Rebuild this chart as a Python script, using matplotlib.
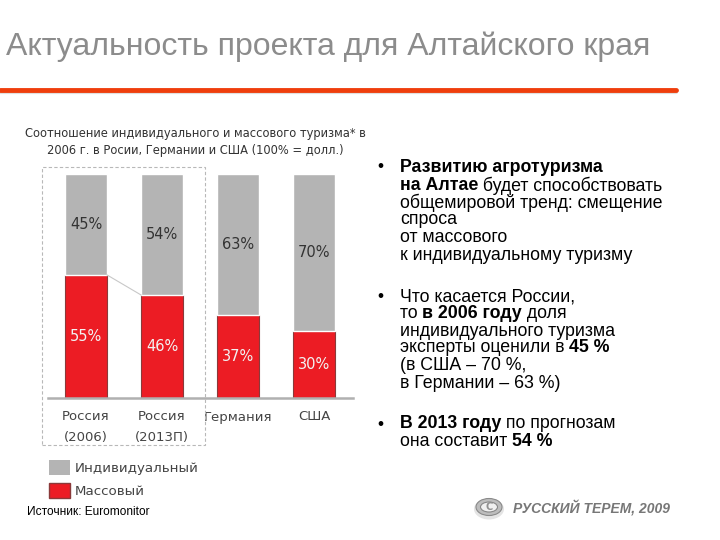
import matplotlib
matplotlib.use('Agg')
import matplotlib.pyplot as plt
from matplotlib.patches import Rectangle, Ellipse, Patch
from matplotlib.lines import Line2D

# data
categories = ['Россия\n(2006)', 'Россия\n(2013П)', 'Германия', 'США']
individual = [45, 54, 63, 70]
mass = [55, 46, 37, 30]

GRAY = '#b4b4b4'
RED = '#ec1c24'
W, H = 720, 540


def px(x, y):
    # slide pixel coords -> figure fraction
    return x / W, 1 - y / H


fig = plt.figure(figsize=(7.2, 5.4), dpi=100)
fig.patch.set_facecolor('white')

# slide title and orange rule
fig.text(*px(6, 47), 'Актуальность проекта для Алтайского края', fontsize=23,
         family='Liberation Sans', color='#8c8c8c', va='center', ha='left')
fig.add_artist(Line2D([0, 676 / W], [1 - 92 / H] * 2, color='#e0e0e0', lw=3,
                      solid_capstyle='round'))
fig.add_artist(Line2D([0, 676 / W], [1 - 90 / H] * 2, color='#ef3e0c', lw=3.5,
                      solid_capstyle='round'))

# chart title
fig.text(*px(195, 142), 'Соотношение индивидуального и массового туризма* в\n'
         '2006 г. в Росии, Германии и США (100% = долл.)',
         fontsize=8.3, family='DejaVu Sans', color='#333333', ha='center',
         va='center', linespacing=1.45)

# bars
ax = fig.add_axes([48 / W, 1 - 398 / H, 305 / W, 225 / H])
x = range(len(categories))
ax.bar(x, mass, width=0.55, color=RED, edgecolor='#8a3a3a', linewidth=0.8)
ax.bar(x, individual, bottom=mass, width=0.55, color=GRAY, edgecolor='white',
       linewidth=1.0)
ax.plot([0.275, 0.725], [mass[0], mass[1]], color='#c8c8c8', lw=0.8)
for i in x:
    ax.text(i, mass[i] + individual[i] / 2, f'{individual[i]}%', ha='center',
            va='center', fontsize=10.5, color='#333333', family='DejaVu Sans')
    ax.text(i, mass[i] / 2, f'{mass[i]}%', ha='center', va='center',
            fontsize=10.5, color='#f2f2f2', family='DejaVu Sans')
ax.set_xlim(-0.5, 3.513)
ax.set_ylim(0, 100.5)
ax.set_xticks(list(x))
ax.set_xticklabels(categories, fontsize=9.5, color='#444444',
                   family='DejaVu Sans', linespacing=1.75)
ax.tick_params(length=0, pad=9)
ax.set_yticks([])
for s in ['top', 'left', 'right']:
    ax.spines[s].set_visible(False)
ax.spines['bottom'].set_color('#b0b0b0')
ax.spines['bottom'].set_linewidth(1.8)
ax.set_facecolor('none')

# dashed box around Russia
bx0, by0 = px(42, 445)
fig.add_artist(Rectangle((bx0, by0), 163 / W, 278 / H, fill=False,
                         edgecolor='#b8b8b8', lw=0.8, ls=(0, (3, 2))))

# legend
fig.legend(handles=[Patch(facecolor=GRAY, edgecolor='none', label='Индивидуальный'),
                    Patch(facecolor=RED, edgecolor='#8a3a3a', label='Массовый')],
           loc='upper left', bbox_to_anchor=px(37, 448), frameon=False,
           prop={'family': 'DejaVu Sans', 'size': 9.6}, handlelength=1.6,
           handleheight=1.4, handletextpad=0.35, labelspacing=0.55,
           labelcolor='#444444')

fig.text(*px(27, 512), 'Источник: Euromonitor', fontsize=8.6,
         family='Liberation Sans', color='black', va='center')

# bullet text on the right
lines = [
    (167, True, [('Развитию агротуризма', True)]),
    (186, False, [('на Алтае', True), (' будет способствовать', False)]),
    (203, False, [('общемировой тренд: смещение', False)]),
    (220, False, [('спроса', False)]),
    (238, False, [('от массового', False)]),
    (255, False, [('к индивидуальному туризму', False)]),
    (297, True, [('Что касается России,', False)]),
    (314, False, [('то ', False), ('в 2006 году', True), (' доля', False)]),
    (331, False, [('индивидуального туризма', False)]),
    (348, False, [('эксперты оценили в ', False), ('45 %', True)]),
    (366, False, [('(в США – 70 %,', False)]),
    (383, False, [('в Германии – 63 %)', False)]),
    (424, True, [('В 2013 году', True), (' по прогнозам', False)]),
    (441, False, [('она составит ', False), ('54 %', True)]),
]
renderer = fig.canvas.get_renderer()
for y, bullet, parts in lines:
    if bullet:
        fig.text(*px(377, y), '•', fontsize=12.5, family='Liberation Sans',
                 va='center', color='black')
    xpos = 400
    for s, bold in parts:
        t = fig.text(*px(xpos, y), s, fontsize=12.8, family='Liberation Sans',
                     fontweight='bold' if bold else 'normal', va='center',
                     color='black')
        bb = t.get_window_extent(renderer)
        xpos += bb.width

# logo
cx, cy = px(489, 507)
fig.add_artist(Ellipse((cx, cy - 2 / H), 30 / W, 21 / H, facecolor='#e4e4e4',
                       edgecolor='none'))
fig.add_artist(Ellipse((cx, cy), 26 / W, 17 / H, facecolor='#bdbdbd',
                       edgecolor='#8a8a8a', lw=0.8))
fig.add_artist(Ellipse((cx, cy), 17 / W, 10 / H, facecolor='#f0f0f0',
                       edgecolor='#888888', lw=0.8))
fig.text(cx, cy, 'C', fontsize=7, family='DejaVu Sans', fontweight='bold',
         color='#909090', ha='center', va='center')
fig.text(*px(513, 508), 'РУССКИЙ ТЕРЕМ, 2009', fontsize=10,
         family='Liberation Sans', fontweight='bold', fontstyle='italic',
         color='#777777', va='center')

fig.savefig('out.png', dpi=100)
